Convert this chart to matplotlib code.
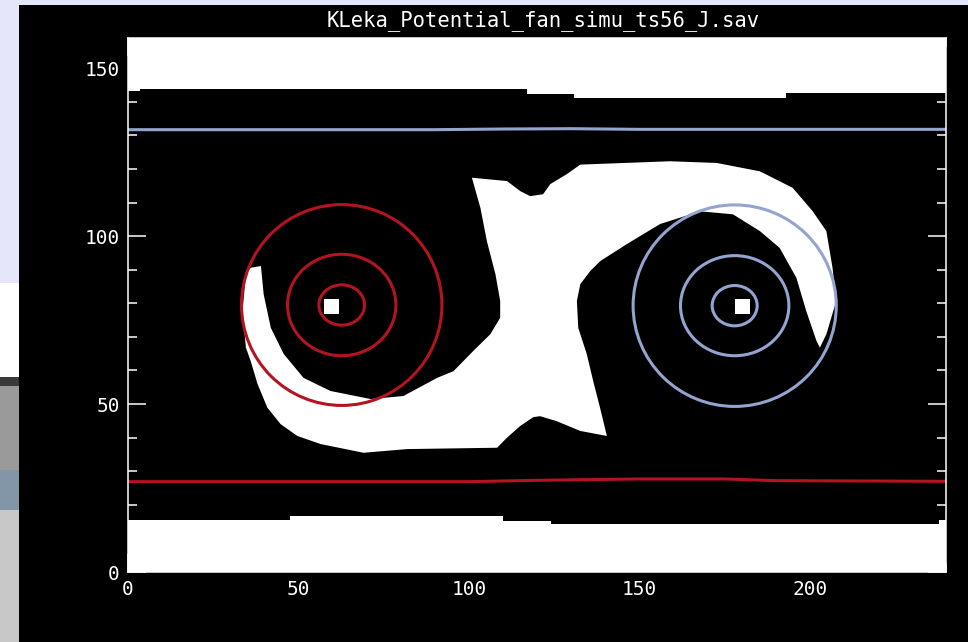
import matplotlib as mpl
mpl.use('Agg')
import matplotlib.pyplot as plt
from matplotlib.patches import Ellipse, Rectangle

# white region of the fan (data units of the image, 240 x 160)
fan_x = [36.0, 39.0, 39.8, 41.9, 45.7, 51.5, 59.4, 71.2, 80.8, 90.7, 95.5,
         101.3, 106.3, 109.2, 109.2, 107.8, 105.3, 103.4, 100.9, 111.2, 115.1,
         118.0, 121.8, 123.9, 128.8, 132.7, 159.0, 172.7, 185.4, 195.0, 200.9,
         204.9, 206.7, 207.8, 204.9, 203.0, 202.0, 199.0, 196.1, 191.2, 185.4,
         177.5, 167.8, 156.1, 146.3, 138.6, 135.6, 132.7, 131.7, 132.1, 134.6,
         136.5, 138.5, 140.5, 132.7, 125.8, 120.9, 118.9, 115.1, 111.2, 108.3,
         81.9, 69.1, 56.5, 49.7, 44.8, 40.9, 38.0, 36.0, 34.6, 33.6, 34.6]
fan_y = [90.6, 91.1, 82.7, 72.7, 64.9, 57.8, 53.9, 51.5, 52.4, 57.8, 59.8,
         65.8, 70.8, 75.7, 80.7, 88.7, 98.5, 108.4, 117.4, 116.4, 113.4,
         111.9, 112.5, 115.5, 118.5, 121.3, 122.3, 121.8, 119.3, 114.4, 107.4,
         101.5, 90.6, 80.7, 70.8, 66.8, 68.8, 77.7, 87.6, 96.5, 101.5,
         106.5, 107.4, 103.6, 97.6, 92.6, 89.6, 85.7, 80.7, 72.7, 64.9,
         56.8, 48.9, 40.5, 42.0, 44.9, 46.4, 46.1, 43.5, 40.0, 37.0,
         36.6, 35.5, 38.1, 40.5, 44.0, 48.9, 56.0, 62.8, 66.8, 77.7, 88.7]

# white bands at top and bottom (step edges)
top_x = [0, 3.5, 117, 131, 193, 240]
top_edge = [143.2, 143.8, 142.4, 141.2, 142.7, 142.7]
bottom_x = [0, 47.5, 110, 124, 238, 240]
bottom_edge = [15.4, 16.7, 15.2, 14.2, 15.5, 15.5]

# small white squares at the vortex centres
square_x = [57.5, 178.0]
square_y = [76.8, 76.8]

# contours around the two vortices
red_center = (62.7, 79.5)
red_rx = [6.7, 15.9, 29.4]
red_ry = [6.0, 15.1, 29.9]
blue_center = (178.0, 79.3)
blue_rx = [6.6, 15.9, 29.8]
blue_ry = [6.0, 14.9, 30.0]

# horizontal lines
red_line_x = [0, 100, 120, 150, 175, 190, 240]
red_line_y = [26.9, 26.9, 27.3, 27.7, 27.7, 27.2, 27.0]
blue_line_x = [0, 90, 110, 130, 150, 240]
blue_line_y = [131.7, 131.7, 131.9, 132.0, 131.8, 131.8]

title = 'KLeka_Potential_fan_simu_ts56_J.sav'

RED = '#B3141F'
BLUE = '#95A4CF'
W, H = 968, 642

fig = plt.figure(figsize=(W / 100, H / 100), dpi=100, facecolor='black')


def fig_rect(x0, y0, x1, y1, color):
    # rectangle in pixel coords of the screenshot (y from top)
    fig.add_artist(Rectangle((x0 / W, 1 - y1 / H), (x1 - x0) / W,
                             (y1 - y0) / H, transform=fig.transFigure,
                             facecolor=color, edgecolor='none', zorder=0))


# surrounding page pieces
fig_rect(0, 0, W, 5, '#E6E6FA')
fig_rect(0, 0, 19, 283, '#E6E6FA')
fig_rect(0, 283, 19, 377, 'white')
fig_rect(0, 377, 19, 386, '#3A3A3A')
fig_rect(0, 386, 19, 470, '#9A9A9A')
fig_rect(0, 470, 19, 510, '#8296A8')
fig_rect(0, 510, 19, W, '#C8C8C8')

ax = fig.add_axes([128 / W, 1 - 572 / H, 818 / W, 534 / H])
ax.set_facecolor('black')

ax.fill_between(top_x, top_edge, 160, step='post', color='white', lw=0)
ax.fill_between(bottom_x, 0, bottom_edge, step='post', color='white', lw=0)
ax.fill(fan_x, fan_y, color='white', lw=0)
for sx, sy in zip(square_x, square_y):
    ax.add_patch(Rectangle((sx, sy), 4.5, 4.5, color='white', lw=0))

for rx, ry in zip(red_rx, red_ry):
    ax.add_patch(Ellipse(red_center, 2 * rx, 2 * ry, fill=False,
                         edgecolor=RED, lw=2.2))
for rx, ry in zip(blue_rx, blue_ry):
    ax.add_patch(Ellipse(blue_center, 2 * rx, 2 * ry, fill=False,
                         edgecolor=BLUE, lw=2.2))

ax.plot(red_line_x, red_line_y, color=RED, lw=2.2)
ax.plot(blue_line_x, blue_line_y, color=BLUE, lw=2.2)

ax.set_xlim(0, 240)
ax.set_ylim(0, 159)
ax.set_xticks([0, 50, 100, 150, 200])
ax.set_yticks([0, 50, 100, 150])
ax.set_xticks(range(0, 241, 10), minor=True)
ax.set_yticks(range(0, 160, 10), minor=True)

for sp in ax.spines.values():
    sp.set_color('white')
    sp.set_linewidth(1.1)

ax.tick_params(which='both', direction='in', colors='white', top=True,
               right=True, width=1.1)
ax.tick_params(which='major', length=13, pad=6)
ax.tick_params(which='minor', length=6.5)
for lab in ax.get_xticklabels() + ax.get_yticklabels():
    lab.set_family('DejaVu Sans Mono')
    lab.set_fontsize(14)

fig.text(543 / W, 1 - 21 / H, title, color='white', ha='center',
         va='center', family='DejaVu Sans Mono', fontsize=14.8)

plt.savefig('out.png', dpi=100, facecolor='black')
plt.close(fig)
